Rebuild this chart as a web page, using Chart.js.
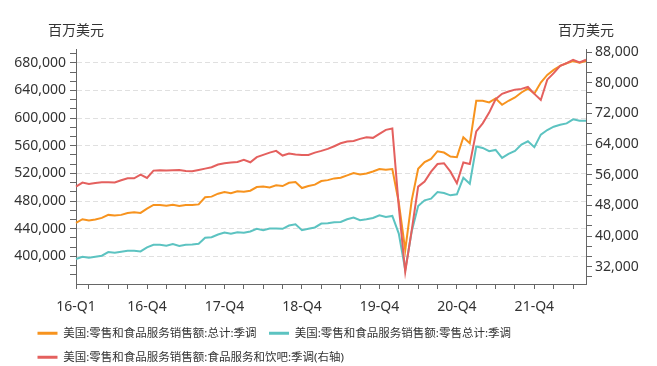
<!DOCTYPE html>
<html>
<head>
<meta charset="utf-8">
<script src="https://cdn.jsdelivr.net/npm/chart.js@4.4.0/dist/chart.umd.min.js"></script>
<style>
  html, body { margin: 0; padding: 0; background: #fff; }
  #wrap { width: 657px; height: 366px; }
</style>
</head>
<body>
<div id="wrap"><canvas id="linechart"></canvas></div>
<script>
// monthly categories, 2016-01 .. 2022-08
var months = [];
for (var yr = 2016; yr <= 2022; yr++) {
  for (var mo = 1; mo <= 12; mo++) {
    if (yr === 2022 && mo > 8) break;
    months.push(yr + '-' + (mo < 10 ? '0' + mo : mo));
  }
}

// x labels shown on the axis
var tickIndex = [0, 11, 23, 35, 47, 59, 71];
var tickText = ['16-Q1', '16-Q4', '17-Q4', '18-Q4', '19-Q4', '20-Q4', '21-Q4'];

var unitText = '百万美元';

var totalLabel = '美国:零售和食品服务销售额:总计:季调';
var retailLabel = '美国:零售和食品服务销售额:零售总计:季调';
var foodLabel = '美国:零售和食品服务销售额:食品服务和饮吧:季调(右轴)';

// 总计 (left axis)
var totalSales = [448400, 453700, 451800, 453200, 455600, 460000, 459000, 460000, 462800, 463800,
  462800, 469100, 474300, 474300, 473400, 474800, 472900, 474300, 474300, 475200,
  485400, 486400, 490700, 493100, 491200, 494100, 493600, 495000, 500300, 501200,
  499800, 502700, 501700, 506500, 507500, 498800, 501700, 503700, 508900, 510300,
  512800, 513700, 517100, 520400, 518500, 520000, 522800, 526200, 525200, 526200,
  478000, 409100, 481000, 526700, 536300, 541100, 552100, 550200, 544400, 543500,
  572300, 563600, 625100, 625100, 622700, 628400, 619300, 625100, 629900, 637100,
  642800, 635600, 651500, 662500, 669700, 675500, 679300, 682700, 680300, 682700];

// 零售总计 (left axis)
var retailSales = [396100, 399500, 398000, 399500, 400900, 406200, 405200, 406700, 408100, 408100,
  407200, 413000, 416800, 416800, 415400, 417700, 414900, 416800, 417200, 418200,
  426800, 427700, 431600, 434500, 432600, 434900, 434000, 435900, 439800, 437900,
  440300, 440300, 439800, 444600, 446500, 437900, 439800, 441800, 447500, 447900,
  449400, 449800, 453700, 456100, 452300, 453700, 455600, 459500, 457100, 458500,
  433000, 380300, 436000, 472900, 481100, 483500, 493100, 491600, 488300, 489700,
  513700, 505100, 558900, 556900, 552100, 554000, 542500, 548300, 552600, 561700,
  566500, 557900, 576100, 582800, 587600, 590500, 592400, 598200, 596300, 596300];

// 食品服务和饮吧 (right axis)
var foodSales = [52900, 53950, 53600, 53860, 54040, 54040, 54000, 54560, 55080, 55080,
  56040, 55170, 57080, 57170, 57080, 57170, 57260, 56990, 56900, 57260,
  57600, 57960, 58650, 59000, 59170, 59350, 59870, 59260, 60600, 61170,
  61780, 62220, 61000, 61520, 61260, 61170, 61170, 61780, 62220, 62740,
  63440, 64220, 64660, 64830, 65360, 65790, 65620, 66660, 67710, 68050,
  47700, 30700, 41500, 52900, 54200, 56800, 58800, 59000, 56800, 53800,
  59200, 58800, 67300, 69400, 72200, 75700, 77100, 77700, 78200, 78400,
  78900, 77100, 75500, 80800, 82500, 84400, 85100, 86000, 85300, 86000];

var FONT = '"Noto Sans", "Noto Sans CJK SC", sans-serif';
var AXIS = '#666';

function near(v, step) {
  return Math.abs(v / step - Math.round(v / step)) < 1e-6;
}

// minor ticks: each labelled interval split in three
function thirds(step, from, to) {
  var out = [];
  for (var n = Math.ceil(from / (step / 3) - 1e-9); n * step / 3 <= to + 1e-6; n++) {
    out.push({ value: n * step / 3 });
  }
  return out;
}

var unitLabels = {
  id: 'unitLabels',
  afterLayout: function(chart) {
    // legend items start further right than the axis labels
    chart.legend.left += 15;
  },
  afterDraw: function(chart) {
    var ctx = chart.ctx;
    ctx.save();
    ctx.font = '14px ' + FONT;
    ctx.fillStyle = '#333';
    ctx.textAlign = 'center';
    ctx.textBaseline = 'middle';
    ctx.fillText(unitText, chart.scales.y.right, 31);
    ctx.fillText(unitText, chart.scales.y1.left, 31);
    ctx.restore();
  }
};

function drawLineChart() {
  var ctx = document.getElementById('linechart').getContext('2d');

  new Chart(ctx, {
    type: 'line',
    data: {
      labels: months,
      datasets: [
        {
          label: totalLabel,
          data: totalSales,
          borderColor: '#F7931E',
          backgroundColor: '#F7931E',
          yAxisID: 'y',
          order: 2
        },
        {
          label: retailLabel,
          data: retailSales,
          borderColor: '#5CC3C1',
          backgroundColor: '#5CC3C1',
          yAxisID: 'y',
          order: 3
        },
        {
          label: foodLabel,
          data: foodSales,
          borderColor: '#E4605E',
          backgroundColor: '#E4605E',
          yAxisID: 'y1',
          order: 1
        }
      ]
    },
    options: {
      animation: false,
      responsive: true,
      maintainAspectRatio: false,
      elements: {
        line: { borderWidth: 2, tension: 0 },
        point: { radius: 0, hoverRadius: 0, pointStyle: 'line' }
      },
      layout: { padding: { top: 49, left: 10, right: 10, bottom: -7 } },
      plugins: {
        tooltip: { enabled: false },
        legend: {
          position: 'bottom',
          align: 'start',
          labels: {
            usePointStyle: true,
            pointStyle: 'line',
            pointStyleWidth: 20,
            padding: 12.5,
            color: '#333',
            font: { family: FONT, size: 11.5 },
            sort: function(a, b) { return a.datasetIndex - b.datasetIndex; },
            generateLabels: function(chart) {
              var items = Chart.defaults.plugins.legend.labels.generateLabels(chart);
              items.forEach(function(it) { it.lineWidth = 3; });
              return items;
            }
          }
        }
      },
      scales: {
        x: {
          afterFit: function(s) { s.height = 31; },
          grid: {
            drawOnChartArea: false,
            tickLength: 5,
            tickColor: function(c) {
              return (c.index === 0 || c.index % 3 === 2) ? AXIS : 'transparent';
            }
          },
          border: { color: AXIS },
          ticks: {
            autoSkip: false,
            maxRotation: 0,
            minRotation: 0,
            padding: 10,
            color: '#333',
            font: { family: FONT, size: 14 },
            callback: function(v, i) {
              var k = tickIndex.indexOf(i);
              return k >= 0 ? tickText[k] : '';
            }
          }
        },
        y: {
          position: 'left',
          min: 360000,
          max: 700000,
          afterFit: function(s) { s.width = 66; },
          afterBuildTicks: function(s) { s.ticks = thirds(40000, 360000, 699000); },
          grid: {
            color: function(c) {
              var v = c.tick ? c.tick.value : 0;
              return (near(v, 40000) && v > 390000 && v < 690000) ? '#e0e0e0' : 'transparent';
            },
            tickLength: 6,
            tickColor: function(c) {
              var v = c.tick ? c.tick.value : 0;
              return v < 361000 ? 'transparent' : AXIS;
            }
          },
          border: { color: AXIS, dash: [5, 3] },
          ticks: {
            autoSkip: false,
            padding: 4,
            color: '#333',
            font: { family: FONT, size: 14 },
            callback: function(v) {
              if (near(v, 40000) && v > 390000 && v < 690000) {
                return Math.round(v).toLocaleString('en-US');
              }
              return '';
            }
          }
        },
        y1: {
          position: 'right',
          min: 27500,
          max: 88800,
          afterFit: function(s) { s.width = 61; },
          afterBuildTicks: function(s) { s.ticks = thirds(8000, 27600, 88800); },
          grid: {
            drawOnChartArea: false,
            tickLength: 6,
            tickColor: AXIS
          },
          border: { color: AXIS },
          ticks: {
            autoSkip: false,
            padding: 3,
            color: '#333',
            font: { family: FONT, size: 14 },
            callback: function(v) {
              if (near(v, 8000) && v > 31000) {
                return Math.round(v).toLocaleString('en-US');
              }
              return '';
            }
          }
        }
      }
    },
    plugins: [unitLabels]
  });
}

drawLineChart();
</script>
</body>
</html>
